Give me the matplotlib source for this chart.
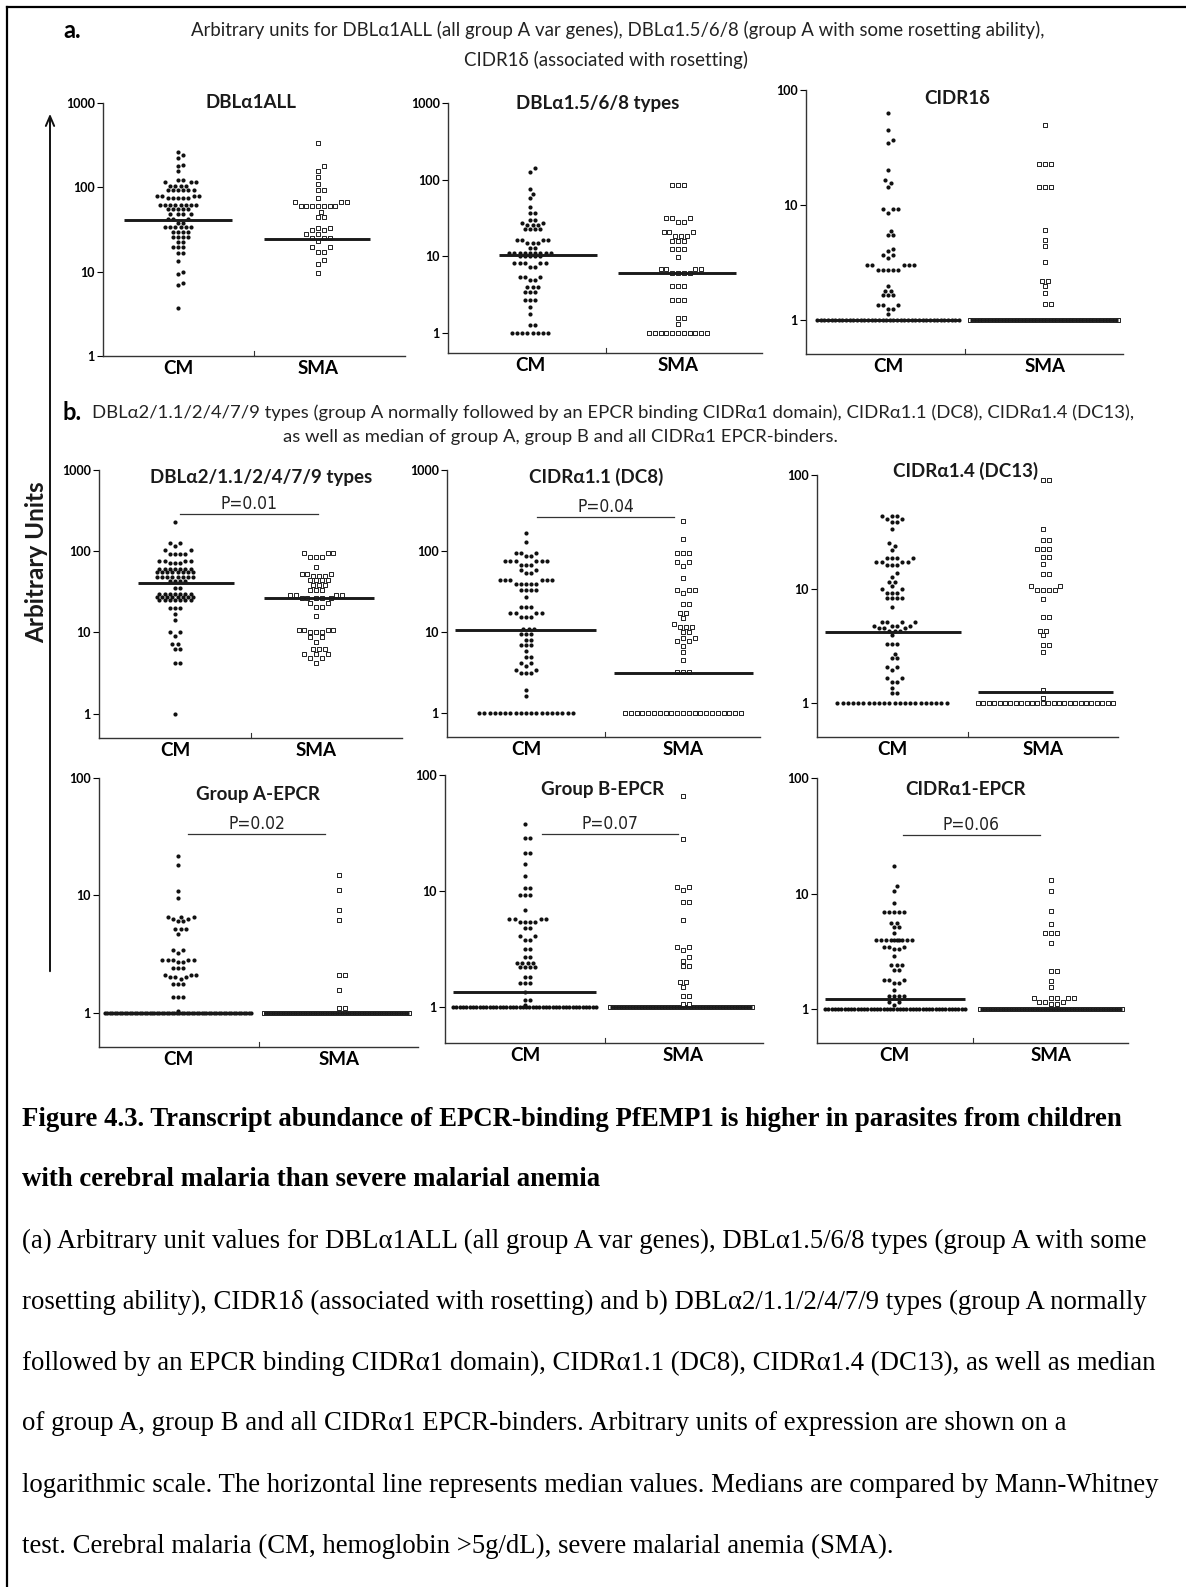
import numpy as np
import matplotlib.pyplot as plt
from matplotlib.lines import Line2D
from matplotlib.ticker import NullLocator

plt.rcParams['font.family'] = ['Lato', 'DejaVu Sans']

# every series is a list of (arbitrary units, number of children at about that level)
dbla1_all_cm = [(265, 1), (245, 1), (220, 1), (183, 1), (178, 1), (155, 1), (121, 2), (116, 3),
                (105, 4), (92, 6), (80, 4), (74, 5), (61, 8), (55, 5), (48, 4), (42, 3), (38, 2),
                (33.6, 6), (29.7, 4), (25.5, 4), (22.2, 2), (19.4, 3), (16.5, 2), (13.4, 1),
                (10, 1), (9.4, 1), (7.4, 1), (7.0, 1), (3.7, 1)]
dbla1_all_sma = [(333, 1), (178, 1), (157, 1), (133, 1), (110, 1), (92, 2), (75, 1), (67, 3),
                 (60, 7), (51, 1), (44, 2), (33, 2), (31, 2), (28, 2), (25, 3), (23, 1),
                 (19.4, 2), (17.2, 2), (13.8, 1), (12.2, 1), (9.6, 1)]

dbla1_568_cm = [(142, 1), (126, 1), (76, 1), (65, 1), (57, 1), (44, 1), (37, 2), (30, 2),
                (27.5, 2), (25.6, 3), (22.5, 4), (16.4, 4), (15, 3), (13, 2), (11.2, 9),
                (10.1, 5), (8.1, 5), (7.2, 2), (5.4, 3), (4.9, 2), (3.95, 3), (3.46, 3),
                (2.7, 3), (2.2, 1), (1.75, 1), (1.26, 2), (1.0, 8)]
dbla1_568_sma = [(84.5, 3), (31.9, 3), (28, 2), (21, 3), (18.4, 3), (15.9, 3), (12.4, 3),
                 (9.7, 1), (6.8, 4), (6.0, 4), (4.15, 3), (2.73, 3), (1.56, 2), (1.32, 1),
                 (1.0, 11)]

cidr1d_cm = [(62.7, 1), (44.9, 1), (36.7, 1), (34.4, 1), (20.1, 1), (16.7, 1), (15.6, 1),
             (14.3, 1), (9.2, 3), (8.5, 1), (6.0, 1), (5.5, 2), (4.2, 1), (4.0, 1), (3.67, 2),
             (3.5, 1), (3.0, 5), (2.76, 5), (2.0, 1), (1.8, 2), (1.65, 3), (1.35, 3),
             (1.26, 2), (1.14, 1), (1.0, 40)]
cidr1d_sma = [(49.6, 1), (22.7, 3), (14.3, 3), (6.1, 1), (5.0, 1), (4.4, 1), (3.19, 1),
              (2.18, 2), (1.98, 1), (1.73, 1), (1.38, 2), (1.0, 45)]

dbla2_cm = [(227, 1), (127, 2), (115, 1), (103, 2), (93, 4), (75, 4), (72, 3), (61, 7),
            (55, 8), (48, 8), (42.5, 4), (35, 2), (29.9, 7), (27.2, 8), (24.7, 7), (20, 3),
            (16.9, 1), (14.4, 1), (10, 2), (9.1, 1), (7.2, 2), (6.3, 2), (4.25, 2), (1.0, 1)]
dbla2_sma = [(94, 3), (85, 3), (64, 1), (53, 3), (50, 3), (43.7, 4), (37.9, 3), (32.8, 3),
             (29, 4), (26.5, 5), (23.1, 2), (20.4, 2), (16.1, 1), (10.8, 4), (10.2, 3),
             (8.7, 2), (7.7, 1), (6.2, 3), (5.4, 3), (4.8, 2), (4.25, 1)]

cidra11_cm = [(167, 1), (131, 1), (94, 3), (86, 2), (74.5, 6), (67.7, 3), (58.8, 2), (53, 2),
              (44, 6), (39.5, 5), (32.7, 4), (27, 1), (20.4, 3), (17.2, 4), (15.3, 3),
              (10.9, 3), (9.5, 3), (8.0, 2), (6.9, 3), (5.8, 1), (4.9, 2), (4.2, 2), (3.8, 1),
              (3.4, 2), (3.1, 3), (1.94, 1), (1.64, 1), (1.0, 19)]
cidra11_sma = [(232, 1), (142, 1), (94, 3), (74, 2), (65, 1), (47, 1), (32.7, 3), (30, 1),
               (22.2, 2), (17.2, 2), (14.9, 1), (12.6, 1), (11.5, 3), (10, 2), (8.4, 2),
               (7.7, 2), (6.8, 1), (5.7, 1), (4.55, 1), (3.2, 3), (1.0, 21)]

cidra14_cm = [(43.4, 3), (41, 2), (38.7, 2), (33.8, 1), (25.5, 1), (23.8, 1), (21.8, 1),
              (18.8, 4), (17.3, 4), (16.1, 3), (13.8, 1), (12.7, 1), (11.5, 2), (10.5, 1),
              (9.9, 2), (9.2, 3), (8.3, 4), (6.95, 1), (5.1, 4), (4.7, 4), (4.5, 3), (4.3, 3),
              (3.9, 1), (3.3, 3), (2.7, 1), (2.45, 2), (2.07, 2), (1.93, 1), (1.66, 2),
              (1.53, 2), (1.34, 1), (1.21, 2), (1.0, 22)]
cidra14_sma = [(90, 2), (33.8, 1), (27.1, 2), (22.6, 3), (19.1, 2), (16.5, 1), (13.6, 2),
               (10.5, 2), (9.7, 4), (8.2, 1), (5.7, 2), (4.3, 2), (3.9, 1), (3.2, 2), (2.8, 1),
               (1.29, 1), (1.11, 1), (1.0, 26)]

grp_a_cm = [(21.5, 1), (18, 1), (10.8, 1), (9.4, 1), (6.6, 3), (6.3, 2), (6.0, 2), (5.15, 3),
            (4.7, 1), (3.4, 2), (3.2, 1), (2.8, 5), (2.7, 2), (2.4, 3), (2.1, 3), (2.0, 3),
            (1.93, 1), (1.76, 3), (1.37, 3), (1.04, 1), (1.0, 60)]
grp_a_sma = [(15, 1), (11.2, 1), (7.5, 1), (6.2, 1), (2.1, 2), (1.56, 1), (1.09, 2), (1.0, 60)]

grp_b_cm = [(37.9, 1), (28.5, 2), (21.2, 2), (17.1, 1), (13.5, 1), (10.7, 2), (9.3, 3),
            (6.8, 1), (5.7, 4), (5.4, 4), (4.8, 2), (4.1, 2), (3.8, 2), (3.16, 2), (2.7, 2),
            (2.4, 4), (2.2, 4), (1.81, 2), (1.61, 3), (1.35, 1), (1.16, 2), (1.05, 1), (1.0, 44)]
grp_b_sma = [(66, 1), (28.1, 1), (10.9, 2), (10.3, 1), (8.0, 2), (5.6, 1), (3.3, 2), (3.1, 1),
             (2.7, 1), (2.5, 1), (2.24, 2), (1.66, 2), (1.5, 1), (1.25, 2), (1.07, 2), (1.0, 50)]

cidra1_cm = [(17.3, 1), (11.6, 1), (10.6, 1), (8.3, 1), (6.9, 5), (5.6, 2), (5.1, 2),
             (4.55, 1), (4.0, 2), (3.94, 8), (3.44, 3), (3.3, 2), (2.9, 1), (2.39, 3),
             (2.19, 2), (1.8, 3), (1.68, 2), (1.47, 1), (1.31, 4), (1.16, 2), (1.08, 1),
             (1.0, 44)]
cidra1_sma = [(13, 1), (10.5, 1), (7.1, 1), (5.5, 1), (4.6, 3), (3.75, 1), (2.13, 2),
              (1.77, 1), (1.57, 1), (1.25, 5), (1.15, 3), (1.1, 2), (1.0, 55)]

titles = ['DBLα1ALL', 'DBLα1.5/6/8 types', 'CIDR1δ',
          'DBLα2/1.1/2/4/7/9 types', 'CIDRα1.1 (DC8)', 'CIDRα1.4 (DC13)',
          'Group A-EPCR', 'Group B-EPCR', 'CIDRα1-EPCR']
series = [(dbla1_all_cm, dbla1_all_sma), (dbla1_568_cm, dbla1_568_sma), (cidr1d_cm, cidr1d_sma),
          (dbla2_cm, dbla2_sma), (cidra11_cm, cidra11_sma), (cidra14_cm, cidra14_sma),
          (grp_a_cm, grp_a_sma), (grp_b_cm, grp_b_sma), (cidra1_cm, cidra1_sma)]
# median of CM and SMA
medians = [(40.5, 24.7), (10.4, 6.0), (1, 1), (40.9, 26.7), (10.5, 3.12), (4.2, 1.25),
           (1, 1), (1.36, 1), (1.23, 1)]
# Mann-Whitney p values and height of the bracket
p_values = [None, None, None, '0.01', '0.04', None, '0.02', '0.07', '0.06']
p_heights = [None, None, None, 286, 263, None, 33.2, 31, 32]

W, H = 1186, 1587
fig = plt.figure(figsize=(W / 100, H / 100), dpi=100)


def fx(x):
    return x / W


def fy(y):
    return 1 - y / H


# panel geometry in pixels: axes box (left, top, right, bottom), y range,
# CM / SMA column centres, middle tick, median line spans, title position
layout = [
    dict(box=(103, 103, 405, 356), ylim=(1, 1000), x=(178, 318), mid=254,
         span=((124, 232), (264, 370)), title_xy=(251, 103), bar=None),
    dict(box=(448, 103, 762, 353), ylim=(0.55, 1000), x=(530, 678), mid=606,
         span=((499, 597), (618, 736)), title_xy=(598, 103), bar=None),
    dict(box=(806, 90, 1123, 354), ylim=(0.51, 100), x=(888, 1045), mid=965,
         span=((817, 959), (970, 1118)), title_xy=(957, 98), bar=None),
    dict(box=(99, 470, 402, 738), ylim=(0.5, 1000), x=(175, 316), mid=251,
         span=((138, 234), (264, 374)), title_xy=(261, 477), bar=(180, 318)),
    dict(box=(447, 470, 760, 737), ylim=(0.51, 1000), x=(526, 683), mid=605,
         span=((455, 596), (614, 753)), title_xy=(596, 477), bar=(537, 674)),
    dict(box=(817, 475, 1118, 737), ylim=(0.5, 100), x=(892, 1043), mid=968,
         span=((825, 961), (978, 1113)), title_xy=(966, 471), bar=None),
    dict(box=(99, 778, 418, 1047), ylim=(0.51, 100), x=(178, 339), mid=259,
         span=((105, 251), (264, 409)), title_xy=(258, 794), bar=(188, 325)),
    dict(box=(445, 775, 763, 1043), ylim=(0.49, 100), x=(525, 683), mid=605,
         span=((453, 596), (610, 752)), title_xy=(603, 790), bar=(542, 678)),
    dict(box=(817, 778, 1128, 1043), ylim=(0.51, 100), x=(894, 1051), mid=973,
         span=((825, 965), (980, 1122)), title_xy=(966, 790), bar=(903, 1040)),
]


def spread(ax, rows, cx, lo, hi, d):
    """x positions (pixels) for a dot plot column: big ties go in one packed row,
    the rest are swarmed so that markers do not overlap."""
    vals = np.repeat([v for v, n in rows], [n for v, n in rows]).astype(float)
    vals = np.sort(vals)
    ypx = ax.transData.transform(np.c_[np.zeros_like(vals), vals])[:, 1]
    xs = np.zeros_like(vals)
    placed = []
    uniq, counts = np.unique(vals, return_counts=True)
    for u, c in zip(uniq, counts):
        idx = np.where(vals == u)[0]
        if c < 8:
            continue
        step = min(d, (hi - lo) / (c - 1))
        width = step * (c - 1)
        start = min(max(cx - width / 2, lo), hi - width)
        xs[idx] = start + step * np.arange(c)
    for i in range(len(vals)):
        if counts[np.searchsorted(uniq, vals[i])] >= 8:
            continue
        y = ypx[i]
        k = 0
        while True:
            cands = [0.0] if k == 0 else [k * d * 0.5, -k * d * 0.5]
            hit = None
            for off in cands:
                if all((off - px) ** 2 + (y - py) ** 2 >= d * d * 0.9
                       for px, py in placed if abs(y - py) < d):
                    hit = off
                    break
            if hit is not None:
                break
            k += 1
        placed.append((hit, y))
        xs[i] = cx + hit
    return xs, vals


for i, lay in enumerate(layout):
    l, t, r, b = lay['box']
    ax = fig.add_axes([fx(l), fy(b), (r - l) / W, (b - t) / H])
    ax.set_yscale('log')
    ax.set_xlim(l, r)
    ax.set_ylim(*lay['ylim'])
    for s in ['top', 'right']:
        ax.spines[s].set_visible(False)
    for s in ['left', 'bottom']:
        ax.spines[s].set_color('#333333')
        ax.spines[s].set_linewidth(1.0)
    top = lay['ylim'][1]
    ticks = [1, 10, 100, 1000] if top >= 1000 else [1, 10, 100]
    ax.set_yticks(ticks, [str(v) for v in ticks])
    ax.yaxis.set_minor_locator(NullLocator())
    ax.tick_params(axis='y', direction='out', length=4, width=0.8, pad=2, labelsize=9)
    for lab in ax.get_yticklabels():
        lab.set_fontweight('bold')
    ax.set_xticks(lay['x'], ['CM', 'SMA'])
    ax.tick_params(axis='x', length=0, pad=3, labelsize=13.5)
    for lab in ax.get_xticklabels():
        lab.set_fontweight('bold')
    ax.plot([lay['mid'], lay['mid']], [0, 0.02], color='#333333', lw=0.8,
            transform=ax.get_xaxis_transform(), clip_on=False)

    cm_rows, sma_rows = series[i]
    for g, rows in enumerate([cm_rows, sma_rows]):
        lo, hi = lay['span'][g]
        if g == 0:
            xs, vals = spread(ax, rows, lay['x'][0], lo, hi, 5.2)
            ax.scatter(xs, vals, s=9, marker='o', color='#111111', linewidths=0,
                       zorder=2, clip_on=False)
        else:
            xs, vals = spread(ax, rows, lay['x'][1], lo, hi, 5.8)
            ax.scatter(xs, vals, s=11, marker='s', facecolor='white', edgecolor='#222222',
                       linewidths=0.7, zorder=2, clip_on=False)
        ax.plot([lo, hi], [medians[i][g]] * 2, color='#1a1a1a', lw=2.1,
                solid_capstyle='butt', zorder=3)

    if p_values[i] is not None:
        x0, x1 = lay['bar']
        ax.plot([x0, x1], [p_heights[i]] * 2, color='#333333', lw=0.9)
        ax.text((x0 + x1) / 2, p_heights[i] * 1.03, 'P=' + p_values[i], ha='center',
                va='bottom', fontsize=12.5, family=['DejaVu Sans'], fontstretch='condensed',
                color='#222222')

    tx, ty = lay['title_xy']
    fig.text(fx(tx), fy(ty), titles[i], ha='center', va='center', fontsize=13.5,
             fontweight='bold', color='#1a1a1a')

# section headers
fig.text(fx(63), fy(30), 'a.', ha='left', va='center', fontsize=17, fontweight='bold')
fig.text(fx(618), fy(30), 'Arbitrary units for DBLα1ALL (all group A var genes), '
         'DBLα1.5/6/8 (group A with some rosetting ability),', ha='center', va='center',
         fontsize=13.4, color='#222222')
fig.text(fx(606), fy(60), 'CIDR1δ (associated with rosetting)', ha='center', va='center',
         fontsize=13.4, color='#222222')
fig.text(fx(63), fy(413), 'b.', ha='left', va='center', fontsize=17, fontweight='bold')
fig.text(fx(92), fy(413), 'DBLα2/1.1/2/4/7/9 types (group A normally followed by an EPCR '
         'binding CIDRα1 domain), CIDRα1.1 (DC8), CIDRα1.4 (DC13),', ha='left', va='center',
         fontsize=13.3, color='#222222')
fig.text(fx(560), fy(437), 'as well as median of group A, group B and all CIDRα1 EPCR-binders.',
         ha='center', va='center', fontsize=13.3, color='#222222')

# shared y axis label with arrow
fig.text(fx(37), fy(562), 'Arbitrary Units', rotation=90, ha='center', va='center',
         fontsize=17.5, fontweight='bold', color='#1a1a1a')
fig.add_artist(plt.Annotation('', xy=(fx(50), fy(111)), xytext=(fx(50), fy(974)),
                              xycoords='figure fraction', textcoords='figure fraction',
                              arrowprops=dict(arrowstyle='->,head_width=0.3,head_length=0.7',
                                              lw=1.4, color='#111111')))

# page frame
fig.add_artist(Line2D([fx(7), fx(7)], [fy(7), 0], color='black', lw=1.6))
fig.add_artist(Line2D([fx(7), 1], [fy(7), fy(7)], color='black', lw=1.6))

# caption
caption = [
    ('Figure 4.3. Transcript abundance of EPCR-binding PfEMP1 is higher in parasites from children', 'bold'),
    ('with cerebral malaria than severe malarial anemia', 'bold'),
    ('(a) Arbitrary unit values for DBLα1ALL (all group A var genes), DBLα1.5/6/8 types (group A with some', 'normal'),
    ('rosetting ability), CIDR1δ (associated with rosetting) and b) DBLα2/1.1/2/4/7/9 types (group A normally', 'normal'),
    ('followed by an EPCR binding CIDRα1 domain), CIDRα1.1 (DC8), CIDRα1.4 (DC13), as well as median', 'normal'),
    ('of group A, group B and all CIDRα1 EPCR-binders. Arbitrary units of expression are shown on a', 'normal'),
    ('logarithmic scale. The horizontal line represents median values. Medians are compared by Mann-Whitney', 'normal'),
    ('test. Cerebral malaria (CM, hemoglobin >5g/dL), severe malarial anemia (SMA).', 'normal'),
]
for k, (line, weight) in enumerate(caption):
    fig.text(fx(22), fy(1119 + 61.0 * k), line, ha='left', va='center', fontsize=19.3,
             fontweight=weight, family=['Liberation Serif', 'DejaVu Serif'])

fig.savefig('out.png', dpi=100)
